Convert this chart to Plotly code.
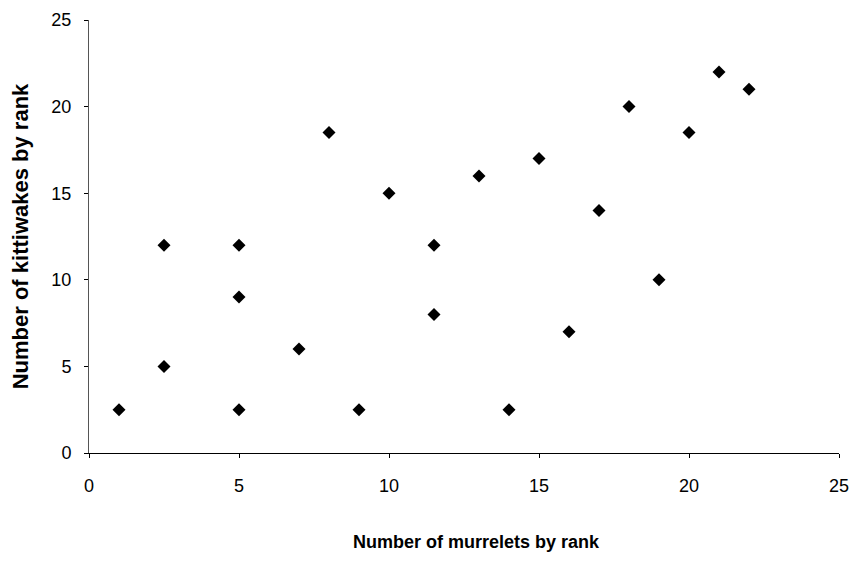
import plotly.graph_objects as go

murrelets_rank = [1, 2.5, 2.5, 5, 5, 5, 7, 8, 9, 10, 11.5, 11.5, 13, 14, 15, 16, 17, 18, 19, 20, 21, 22]
kittiwakes_rank = [2.5, 12, 5, 12, 9, 2.5, 6, 18.5, 2.5, 15, 12, 8, 16, 2.5, 17, 7, 14, 20, 10, 18.5, 22, 21]
tick_vals = [0, 5, 10, 15, 20, 25]

fig = go.Figure()
fig.add_trace(go.Scatter(
    x=murrelets_rank, y=kittiwakes_rank, mode="markers",
    marker=dict(symbol="diamond", size=10, color="black"),
    showlegend=False,
))

font_family = "Liberation Sans, Arial, sans-serif"
# page body has an 8px default margin, so the figure is sized/positioned to compensate
fig.update_layout(
    width=850, height=555,
    paper_bgcolor="white", plot_bgcolor="white",
    margin=dict(l=81, r=19, t=12, b=110),
    font=dict(family=font_family, size=18, color="black"),
)
fig.add_annotation(
    text="<b>Number of murrelets by rank</b>", xref="paper", yref="paper",
    x=0.5, y=0, xanchor="center", yanchor="middle", xshift=12, yshift=-89,
    showarrow=False, font=dict(size=18),
)
fig.update_xaxes(
    range=[0, 25], tickvals=tick_vals, showgrid=False, zeroline=False,
    showline=True, linecolor="black", linewidth=1,
    ticks="outside", ticklen=4, tickcolor="black",
    tickfont=dict(size=18), automargin=False, ticklabelstandoff=12,
)
fig.update_yaxes(
    range=[0, 25], tickvals=tick_vals, showgrid=False, zeroline=False,
    showline=True, linecolor="#555555", linewidth=1,
    ticks="outside", ticklen=4, tickcolor="black",
    tickfont=dict(size=18), automargin=False, ticklabelstandoff=9,
    title=dict(text="<b>Number of kittiwakes by rank</b>", font=dict(size=22), standoff=20),
)
fig.write_html("out.html")
